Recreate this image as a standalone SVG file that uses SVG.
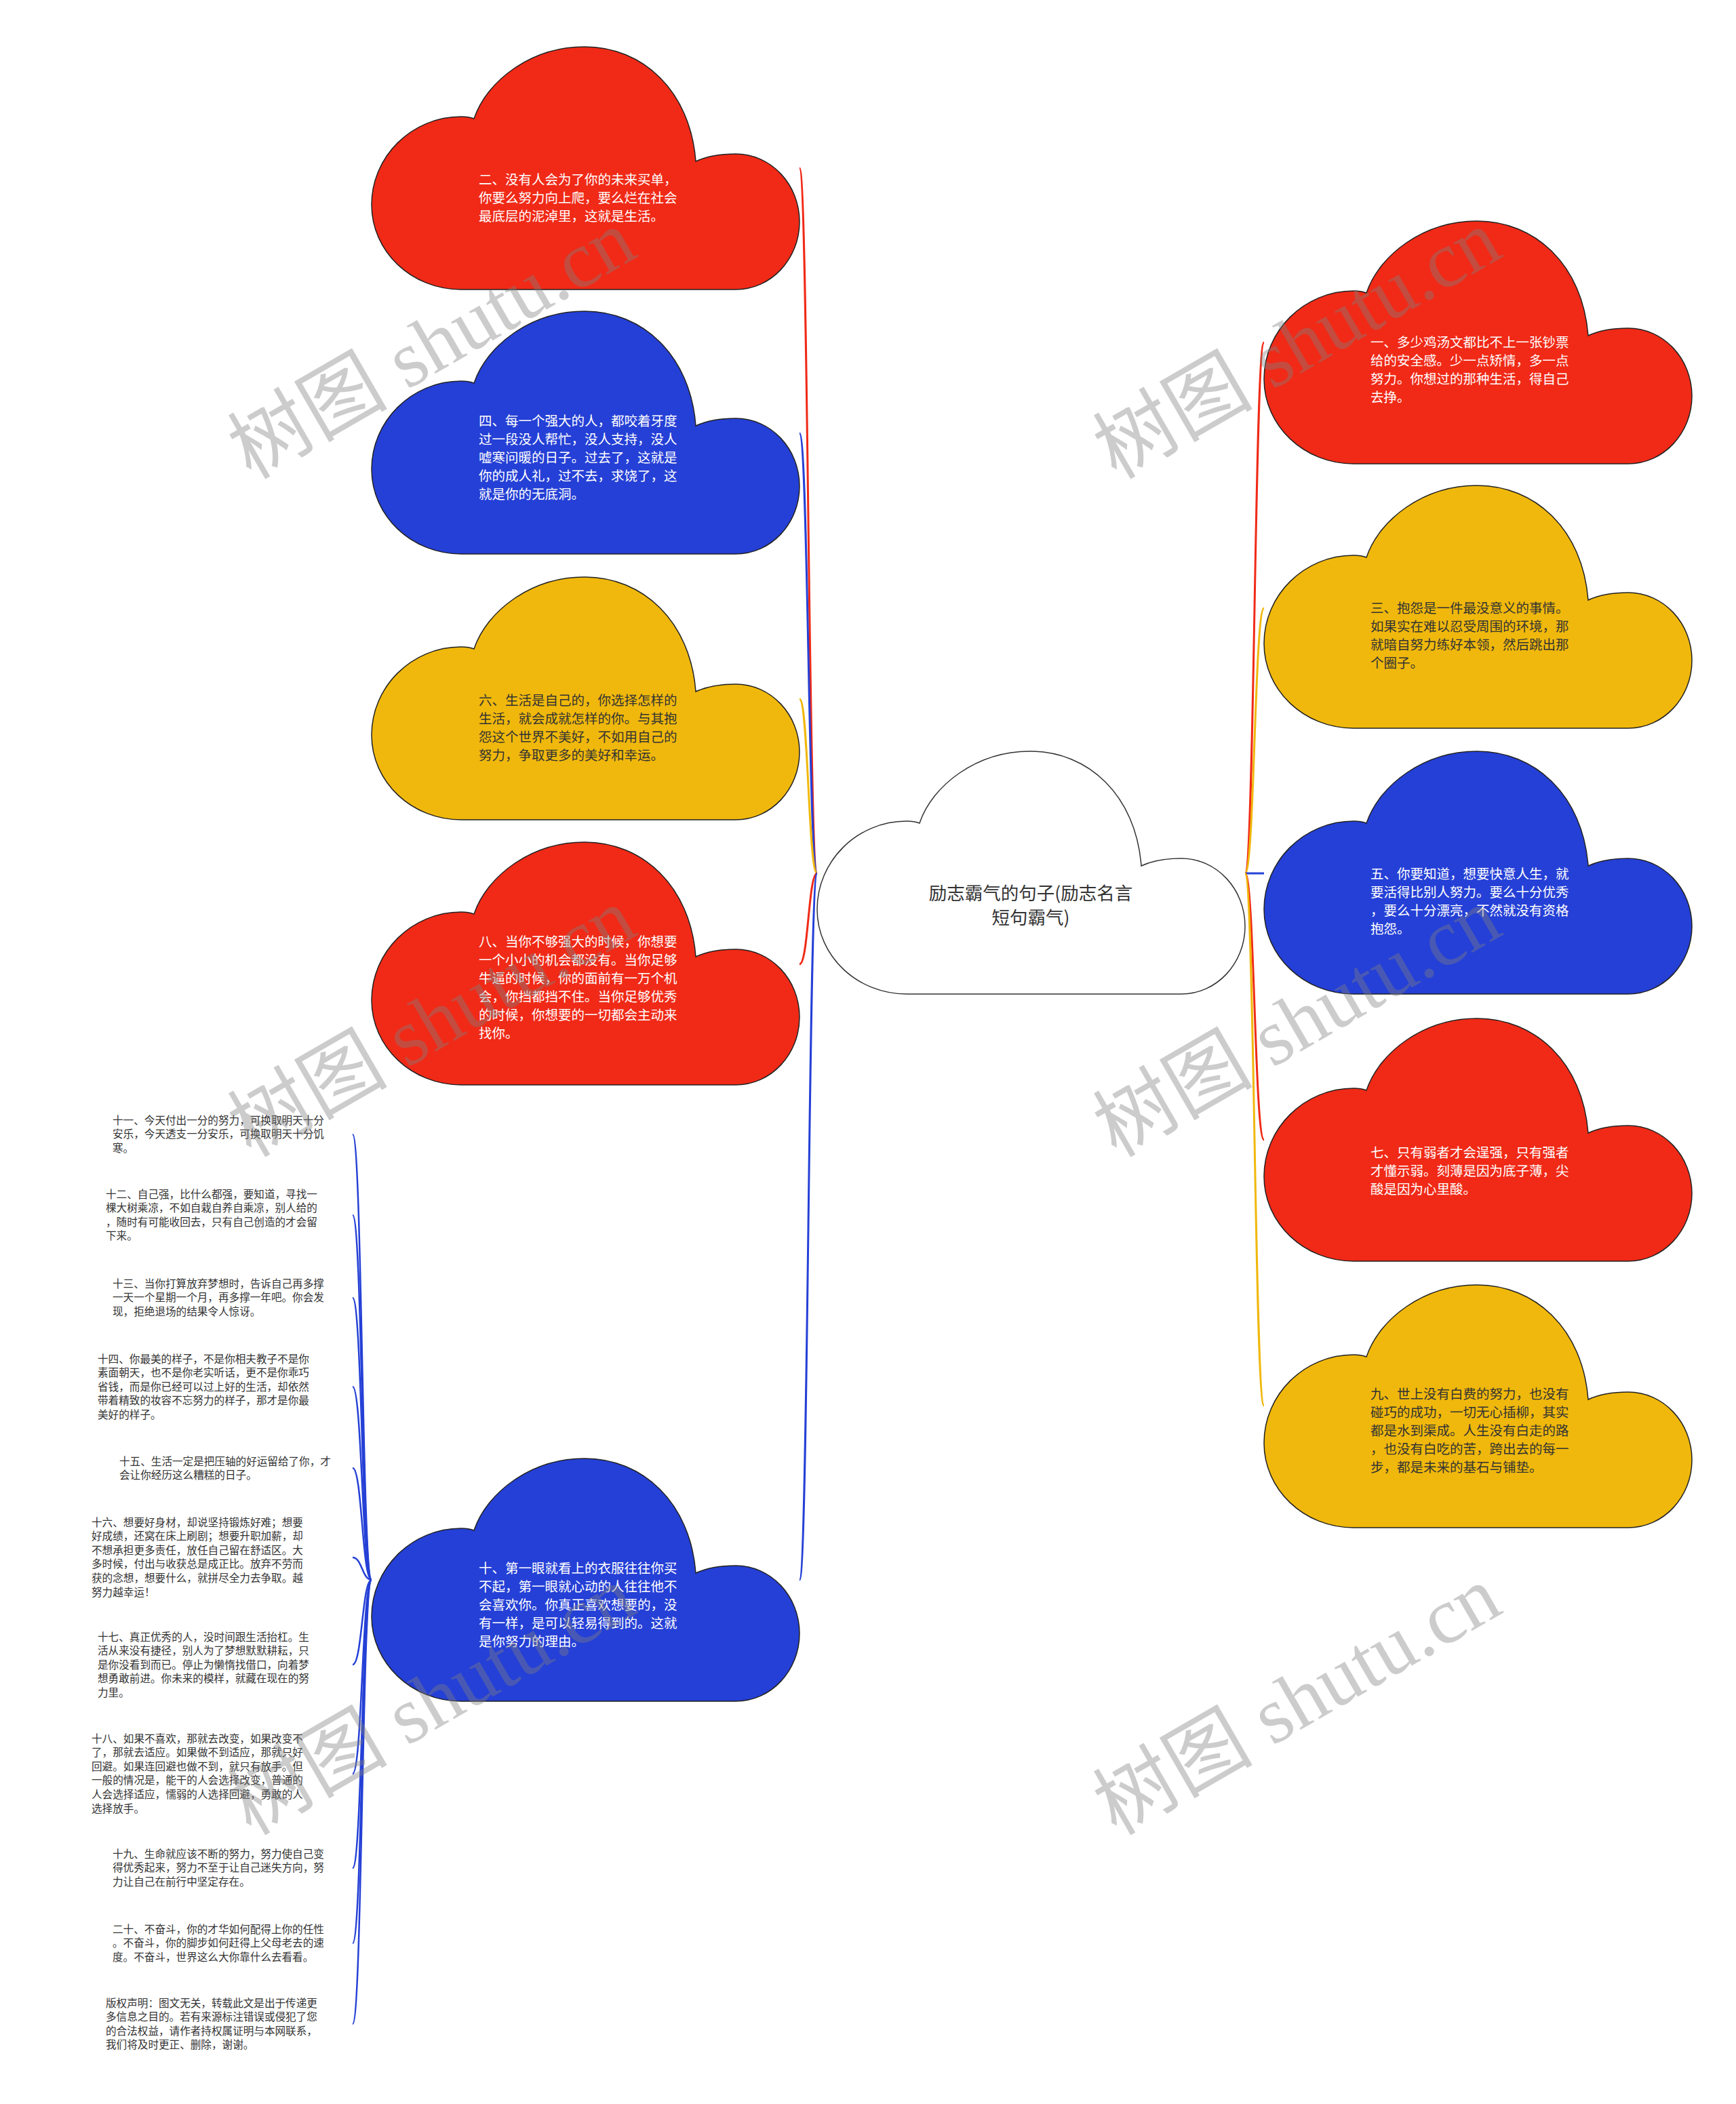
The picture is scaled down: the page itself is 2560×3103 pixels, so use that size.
<svg xmlns="http://www.w3.org/2000/svg" xmlns:xlink="http://www.w3.org/1999/xlink" width="2560" height="3103" viewBox="0 0 2560 3103">
<style>
.red{fill:#f02a17;stroke:#222;stroke-width:1.5}
.blue{fill:#2540d6;stroke:#222;stroke-width:1.5}
.yellow{fill:#f0b80c;stroke:#222;stroke-width:1.5}
.root{fill:#ffffff;stroke:#333;stroke-width:1.5}
.t{font-family:"Noto Sans CJK SC","Noto Sans",sans-serif;font-size:19.5px}
.tw{fill:#ffffff}
.td{fill:#333333}
.tc{font-family:"Noto Sans CJK SC","Noto Sans",sans-serif;font-size:26.5px;fill:#333333;text-anchor:middle}
.ts{font-family:"Noto Sans CJK SC","Noto Sans",sans-serif;font-size:15.6px;fill:#333333}
.c{fill:none;stroke-width:3}
.cs{fill:none;stroke-width:2.5;stroke:#2540d6}
.wm{font-family:"Liberation Serif",serif;font-size:118px;fill:#808080;fill-opacity:0.4}
.wmc{font-family:"Noto Sans CJK SC",sans-serif}
</style>
<defs>
<path id="cloud" d="M132,358 C59,358 0,302 0,233 C0,162 59,103 132,103 C140,103 146,104 151,106 C170,50 235,0 314,0 C400,0 470,65 478,169 C495,161 515,158 537,158 C589,158 631,203 631,258 C631,313 589,358 537,358 Z"/>
</defs>
<rect width="2560" height="3103" fill="#ffffff"/>
<g id="connectors">
<path class="c" stroke="#f02a17" d="M1205,1288 C1192,1288 1192,248 1179,248"/>
<path class="c" stroke="#2540d6" d="M1205,1288 C1192,1288 1192,639 1179,639"/>
<path class="c" stroke="#f0b80c" d="M1205,1288 C1192,1288 1192,1031 1179,1031"/>
<path class="c" stroke="#f02a17" d="M1205,1288 C1192,1288 1192,1422 1179,1422"/>
<path class="c" stroke="#2540d6" d="M1205,1288 C1192,1288 1192,2330 1179,2330"/>
<path class="c" stroke="#f02a17" d="M1836,1288 C1850,1288 1850,505 1864,505"/>
<path class="c" stroke="#f0b80c" d="M1836,1288 C1850,1288 1850,897 1864,897"/>
<path class="c" stroke="#2540d6" d="M1836,1288 L1864,1288"/>
<path class="c" stroke="#f02a17" d="M1836,1288 C1850,1288 1850,1681 1864,1681"/>
<path class="c" stroke="#f0b80c" d="M1836,1288 C1850,1288 1850,2073 1864,2073"/>
<path class="cs" d="M548,2330 C534,2330 534,1673 520,1673"/>
<path class="cs" d="M548,2330 C534,2330 534,1792 520,1792"/>
<path class="cs" d="M548,2330 C534,2330 534,1914 520,1914"/>
<path class="cs" d="M548,2330 C534,2330 534,2045 520,2045"/>
<path class="cs" d="M548,2330 C534,2330 534,2165 520,2165"/>
<path class="cs" d="M548,2330 C534,2330 534,2297 520,2297"/>
<path class="cs" d="M548,2330 C534,2330 534,2455 520,2455"/>
<path class="cs" d="M548,2330 C534,2330 534,2616 520,2616"/>
<path class="cs" d="M548,2330 C534,2330 534,2755 520,2755"/>
<path class="cs" d="M548,2330 C534,2330 534,2866 520,2866"/>
<path class="cs" d="M548,2330 C534,2330 534,2985 520,2985"/>
</g>
<g id="node-root">
<use xlink:href="#cloud" href="#cloud" x="1205" y="1108" class="root"/>
<text class="tc"><tspan x="1520" y="1327">励志霸气的句子(励志名言</tspan><tspan x="1520" y="1363">短句霸气)</tspan></text>
</g>
<g id="node-2">
<use xlink:href="#cloud" href="#cloud" x="548" y="69" class="red"/>
<text class="t tw"><tspan x="706" y="272">二、没有人会为了你的未来买单，</tspan><tspan x="706" y="299">你要么努力向上爬，要么烂在社会</tspan><tspan x="706" y="326">最底层的泥淖里，这就是生活。</tspan></text>
</g>
<g id="node-4">
<use xlink:href="#cloud" href="#cloud" x="548" y="459" class="blue"/>
<text class="t tw"><tspan x="706" y="628">四、每一个强大的人，都咬着牙度</tspan><tspan x="706" y="655">过一段没人帮忙，没人支持，没人</tspan><tspan x="706" y="682">嘘寒问暖的日子。过去了，这就是</tspan><tspan x="706" y="709">你的成人礼，过不去，求饶了，这</tspan><tspan x="706" y="736">就是你的无底洞。</tspan></text>
</g>
<g id="node-6">
<use xlink:href="#cloud" href="#cloud" x="548" y="851" class="yellow"/>
<text class="t td"><tspan x="706" y="1040">六、生活是自己的，你选择怎样的</tspan><tspan x="706" y="1067">生活，就会成就怎样的你。与其抱</tspan><tspan x="706" y="1094">怨这个世界不美好，不如用自己的</tspan><tspan x="706" y="1121">努力，争取更多的美好和幸运。</tspan></text>
</g>
<g id="node-8">
<use xlink:href="#cloud" href="#cloud" x="548" y="1242" class="red"/>
<text class="t tw"><tspan x="706" y="1396">八、当你不够强大的时候，你想要</tspan><tspan x="706" y="1423">一个小小的机会都没有。当你足够</tspan><tspan x="706" y="1450">牛逼的时候，你的面前有一万个机</tspan><tspan x="706" y="1477">会，你挡都挡不住。当你足够优秀</tspan><tspan x="706" y="1504">的时候，你想要的一切都会主动来</tspan><tspan x="706" y="1531">找你。</tspan></text>
</g>
<g id="node-10">
<use xlink:href="#cloud" href="#cloud" x="548" y="2151" class="blue"/>
<text class="t tw"><tspan x="706" y="2320">十、第一眼就看上的衣服往往你买</tspan><tspan x="706" y="2347">不起，第一眼就心动的人往往他不</tspan><tspan x="706" y="2374">会喜欢你。你真正喜欢想要的，没</tspan><tspan x="706" y="2401">有一样，是可以轻易得到的。这就</tspan><tspan x="706" y="2428">是你努力的理由。</tspan></text>
</g>
<g id="node-1">
<use xlink:href="#cloud" href="#cloud" x="1864" y="326" class="red"/>
<text class="t tw"><tspan x="2021" y="512">一、多少鸡汤文都比不上一张钞票</tspan><tspan x="2021" y="539">给的安全感。少一点矫情，多一点</tspan><tspan x="2021" y="566">努力。你想过的那种生活，得自己</tspan><tspan x="2021" y="593">去挣。</tspan></text>
</g>
<g id="node-3">
<use xlink:href="#cloud" href="#cloud" x="1864" y="716" class="yellow"/>
<text class="t td"><tspan x="2021" y="904">三、抱怨是一件最没意义的事情。</tspan><tspan x="2021" y="931">如果实在难以忍受周围的环境，那</tspan><tspan x="2021" y="958">就暗自努力练好本领，然后跳出那</tspan><tspan x="2021" y="985">个圈子。</tspan></text>
</g>
<g id="node-5">
<use xlink:href="#cloud" href="#cloud" x="1864" y="1108" class="blue"/>
<text class="t tw"><tspan x="2021" y="1296">五、你要知道，想要快意人生，就</tspan><tspan x="2021" y="1323">要活得比别人努力。要么十分优秀</tspan><tspan x="2021" y="1350">，要么十分漂亮，不然就没有资格</tspan><tspan x="2021" y="1377">抱怨。</tspan></text>
</g>
<g id="node-7">
<use xlink:href="#cloud" href="#cloud" x="1864" y="1502" class="red"/>
<text class="t tw"><tspan x="2021" y="1707">七、只有弱者才会逞强，只有强者</tspan><tspan x="2021" y="1734">才懂示弱。刻薄是因为底子薄，尖</tspan><tspan x="2021" y="1761">酸是因为心里酸。</tspan></text>
</g>
<g id="node-9">
<use xlink:href="#cloud" href="#cloud" x="1864" y="1895" class="yellow"/>
<text class="t td"><tspan x="2021" y="2063">九、世上没有白费的努力，也没有</tspan><tspan x="2021" y="2090">碰巧的成功，一切无心插柳，其实</tspan><tspan x="2021" y="2117">都是水到渠成。人生没有白走的路</tspan><tspan x="2021" y="2144">，也没有白吃的苦，跨出去的每一</tspan><tspan x="2021" y="2171">步，都是未来的基石与铺垫。</tspan></text>
</g>
<g id="node-11">
<text class="ts"><tspan x="166" y="1657.5">十一、今天付出一分的努力，可换取明天十分</tspan><tspan x="166" dy="20.6">安乐，今天透支一分安乐，可换取明天十分饥</tspan><tspan x="166" dy="20.6">寒。</tspan></text>
</g>
<g id="node-12">
<text class="ts"><tspan x="156" y="1766.5">十二、自己强，比什么都强，要知道，寻找一</tspan><tspan x="156" dy="20.6">棵大树乘凉，不如自栽自养自乘凉，别人给的</tspan><tspan x="156" dy="20.6">，随时有可能收回去，只有自己创造的才会留</tspan><tspan x="156" dy="20.6">下来。</tspan></text>
</g>
<g id="node-13">
<text class="ts"><tspan x="166" y="1898.5">十三、当你打算放弃梦想时，告诉自己再多撑</tspan><tspan x="166" dy="20.6">一天一个星期一个月，再多撑一年吧。你会发</tspan><tspan x="166" dy="20.6">现，拒绝退场的结果令人惊讶。</tspan></text>
</g>
<g id="node-14">
<text class="ts"><tspan x="144" y="2009.5">十四、你最美的样子，不是你相夫教子不是你</tspan><tspan x="144" dy="20.6">素面朝天，也不是你老实听话，更不是你乖巧</tspan><tspan x="144" dy="20.6">省钱，而是你已经可以过上好的生活，却依然</tspan><tspan x="144" dy="20.6">带着精致的妆容不忘努力的样子，那才是你最</tspan><tspan x="144" dy="20.6">美好的样子。</tspan></text>
</g>
<g id="node-15">
<text class="ts"><tspan x="176" y="2160.5">十五、生活一定是把压轴的好运留给了你，才</tspan><tspan x="176" dy="20.6">会让你经历这么糟糕的日子。</tspan></text>
</g>
<g id="node-16">
<text class="ts"><tspan x="135" y="2250.5">十六、想要好身材，却说坚持锻炼好难；想要</tspan><tspan x="135" dy="20.6">好成绩，还窝在床上刷剧；想要升职加薪，却</tspan><tspan x="135" dy="20.6">不想承担更多责任，放任自己留在舒适区。大</tspan><tspan x="135" dy="20.6">多时候，付出与收获总是成正比。放弃不劳而</tspan><tspan x="135" dy="20.6">获的念想，想要什么，就拼尽全力去争取。越</tspan><tspan x="135" dy="20.6">努力越幸运！</tspan></text>
</g>
<g id="node-17">
<text class="ts"><tspan x="144" y="2419.5">十七、真正优秀的人，没时间跟生活抬杠。生</tspan><tspan x="144" dy="20.6">活从来没有捷径，别人为了梦想默默耕耘，只</tspan><tspan x="144" dy="20.6">是你没看到而已。停止为懒惰找借口，向着梦</tspan><tspan x="144" dy="20.6">想勇敢前进。你未来的模样，就藏在现在的努</tspan><tspan x="144" dy="20.6">力里。</tspan></text>
</g>
<g id="node-18">
<text class="ts"><tspan x="135" y="2569.5">十八、如果不喜欢，那就去改变，如果改变不</tspan><tspan x="135" dy="20.6">了，那就去适应。如果做不到适应，那就只好</tspan><tspan x="135" dy="20.6">回避。如果连回避也做不到，就只有放手。但</tspan><tspan x="135" dy="20.6">一般的情况是，能干的人会选择改变，普通的</tspan><tspan x="135" dy="20.6">人会选择适应，懦弱的人选择回避，勇敢的人</tspan><tspan x="135" dy="20.6">选择放手。</tspan></text>
</g>
<g id="node-19">
<text class="ts"><tspan x="166" y="2739.5">十九、生命就应该不断的努力，努力使自己变</tspan><tspan x="166" dy="20.6">得优秀起来，努力不至于让自己迷失方向，努</tspan><tspan x="166" dy="20.6">力让自己在前行中坚定存在。</tspan></text>
</g>
<g id="node-20">
<text class="ts"><tspan x="166" y="2850.5">二十、不奋斗，你的才华如何配得上你的任性</tspan><tspan x="166" dy="20.6">。不奋斗，你的脚步如何赶得上父母老去的速</tspan><tspan x="166" dy="20.6">度。不奋斗，世界这么大你靠什么去看看。</tspan></text>
</g>
<g id="node-copyright">
<text class="ts"><tspan x="156" y="2959.5">版权声明：图文无关，转载此文是出于传递更</tspan><tspan x="156" dy="20.6">多信息之目的。若有来源标注错误或侵犯了您</tspan><tspan x="156" dy="20.6">的合法权益，请作者持权属证明与本网联系，</tspan><tspan x="156" dy="20.6">我们将及时更正、删除，谢谢。</tspan></text>
</g>
<g id="watermarks">
<text class="wm" transform="translate(370,708) rotate(-30)"><tspan class="wmc">树图</tspan> shutu.cn</text>
<text class="wm" transform="translate(1646,708) rotate(-30)"><tspan class="wmc">树图</tspan> shutu.cn</text>
<text class="wm" transform="translate(370,1708) rotate(-30)"><tspan class="wmc">树图</tspan> shutu.cn</text>
<text class="wm" transform="translate(1646,1708) rotate(-30)"><tspan class="wmc">树图</tspan> shutu.cn</text>
<text class="wm" transform="translate(370,2708) rotate(-30)"><tspan class="wmc">树图</tspan> shutu.cn</text>
<text class="wm" transform="translate(1646,2708) rotate(-30)"><tspan class="wmc">树图</tspan> shutu.cn</text>
</g>
</svg>
